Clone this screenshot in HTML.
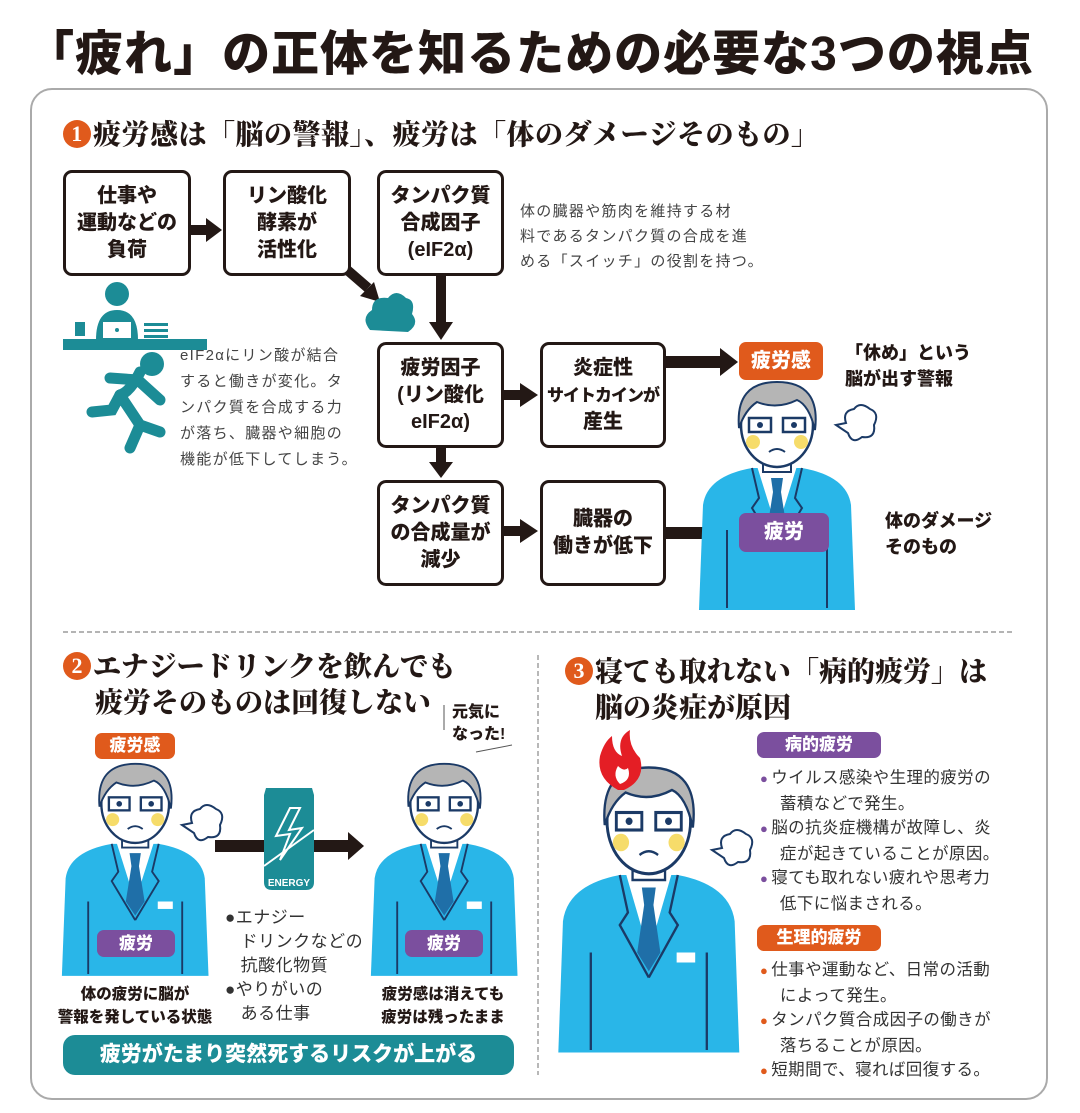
<!DOCTYPE html>
<html><head><meta charset="utf-8"><style>
*{margin:0;padding:0;box-sizing:border-box}
body{width:1080px;height:1113px;background:#fff;position:relative;overflow:hidden;font-family:"Liberation Sans","Noto Sans CJK JP",sans-serif;color:#231815}
.a{position:absolute}
.title{left:10px;top:14px;width:1040px;text-align:center;font-size:48px;font-weight:900;letter-spacing:1px;white-space:nowrap}
.panel{left:30px;top:88px;width:1018px;height:1012px;border:2px solid #aaa;border-radius:22px}
.h{font-family:"Liberation Serif","Noto Serif CJK JP",serif;font-weight:900;font-size:28px;white-space:nowrap;line-height:36px}
.num{display:inline-block;width:28px;height:28px;border-radius:50%;background:#e05a1c;color:#fff;font-size:22px;text-align:center;line-height:28px;vertical-align:3px;margin-right:2px;font-family:"Liberation Serif",serif}
.box{border:3px solid #231815;border-radius:9px;background:#fff;display:flex;align-items:center;justify-content:center;text-align:center;font-weight:900;font-size:20px;line-height:27px;white-space:nowrap}
.tag{color:#fff;font-weight:900;text-align:center;border-radius:7px}
.or{background:#e05a1c}.pu{background:#7b4f9e}
.sm{font-size:15px;color:#444;line-height:25px;white-space:nowrap;letter-spacing:1.3px}
.bl{font-size:16.5px;line-height:24.5px;white-space:nowrap;color:#333;letter-spacing:0.4px}
.bl span{font-size:13px;margin-right:3px}
</style></head><body>
<div class="a title">「疲れ」の正体を知るための必要な3つの視点</div>
<div class="a panel"></div>

<svg class="a" style="left:0;top:0" width="1080" height="1113">
<defs>
<g id="man">
 <path d="M6,125 Q10,96 55,88 L105,88 Q150,96 154,125 L158,230 L2,230 Z" fill="#29b6e8"/>
 <path d="M60,86 L80,150 L100,86 Z" fill="#fff"/>
 <path d="M74,98 L86,98 L84,112 L90,150 L80,165 L70,150 L76,112 Z" fill="#1f6fa8"/>
 <path d="M55,88 L62,118 L55,128 L80,170 M105,88 L98,118 L105,128 L80,170" fill="none" stroke="#1b3a66" stroke-width="2"/>
 <path d="M30,150 L30,228 M130,150 L130,228" stroke="#1b3a66" stroke-width="2"/>
 <rect x="104" y="150" width="16" height="8" fill="#fff"/>
 <rect x="66" y="70" width="28" height="22" fill="#fff" stroke="#1b3a66" stroke-width="2"/>
 <ellipse cx="80" cy="45" rx="36" ry="42" fill="#fff" stroke="#1b3a66" stroke-width="2.5"/>
 <path d="M42,48 Q38,2 80,2 Q124,2 118,50 Q112,25 100,20 Q80,30 60,22 Q48,30 42,48 Z" fill="#b5b5b5" stroke="#1b3a66" stroke-width="2"/>
 <rect x="52" y="38" width="22" height="14" fill="none" stroke="#1b3a66" stroke-width="2.5"/>
 <rect x="86" y="38" width="22" height="14" fill="none" stroke="#1b3a66" stroke-width="2.5"/>
 <circle cx="63" cy="45" r="3" fill="#1b3a66"/><circle cx="97" cy="45" r="3" fill="#1b3a66"/>
 <circle cx="56" cy="62" r="7" fill="#f6dc6a"/><circle cx="104" cy="62" r="7" fill="#f6dc6a"/>
 <path d="M72,72 Q80,66 88,72" fill="none" stroke="#1b3a66" stroke-width="2"/>
</g>
<g id="puff"><path d="M0,20 L10,18 Q6,6 18,4 Q24,-4 34,4 Q44,8 38,20 Q40,34 26,32 Q16,40 12,28 Z" fill="#fff" stroke="#1b3a66" stroke-width="2"/></g>
</defs>
<g fill="#231815">
 <rect x="190" y="225" width="18" height="10"/><polygon points="206,218 222,230 206,242"/>
 <rect x="436" y="275" width="10" height="50"/><polygon points="429,322 441,340 453,322"/>
 <line x1="338" y1="262" x2="368" y2="288" stroke="#231815" stroke-width="10"/><polygon points="360,296 380,302 374,282"/>
 <rect x="503" y="390" width="20" height="10"/><polygon points="520,383 538,395 520,407"/>
 <rect x="436" y="448" width="10" height="16"/><polygon points="429,462 441,478 453,462"/>
 <rect x="503" y="526" width="20" height="10"/><polygon points="520,519 538,531 520,543"/>
 <rect x="665" y="356" width="57" height="12"/><polygon points="720,348 738,362 720,376"/>
 <rect x="665" y="527" width="57" height="12"/><polygon points="720,519 738,533 720,547"/>
 <rect x="215" y="840" width="135" height="12"/><polygon points="348,832 364,846 348,860"/>
</g>
<path d="M370,330 Q360,318 372,310 Q372,296 388,298 Q396,288 406,298 Q416,300 412,314 Q420,324 408,332 Z" fill="#1c8c96"/>
<g fill="#1c8c96">
 <circle cx="117" cy="294" r="12"/>
 <path d="M96,340 Q96,310 117,310 Q138,310 138,340 Z"/>
 <rect x="63" y="339" width="144" height="11"/>
 <rect x="75" y="322" width="10" height="14"/>
 <rect x="144" y="323" width="24" height="3"/><rect x="144" y="329" width="24" height="3"/><rect x="144" y="335" width="24" height="3"/>
</g>
<rect x="103" y="322" width="28" height="16" fill="#fff"/><circle cx="117" cy="330" r="2" fill="#1c8c96"/>
<g stroke="#1c8c96" stroke-width="11" stroke-linecap="round" fill="none">
 <path d="M120,395 L140,425 L160,432"/><path d="M120,395 L112,410 L92,412"/>
 <path d="M140,425 L130,448"/><path d="M120,395 Q130,392 140,372"/><path d="M110,378 L138,380 L160,400"/>
</g>
<circle cx="152" cy="364" r="12" fill="#1c8c96"/>
<use href="#man" transform="translate(697,380)"/>
<use href="#puff" transform="translate(836,405)"/>
<use href="#man" transform="translate(60,762) scale(0.94,0.93)"/>
<use href="#puff" transform="translate(182,805)"/>
<use href="#man" transform="translate(369,762) scale(0.94,0.93)"/>
<use href="#man" transform="translate(556,765) scale(1.16,1.25)"/>
<use href="#puff" transform="translate(712,830)"/>
<path d="M618,790 Q596,778 600,756 Q604,742 612,736 Q612,752 622,756 Q616,738 630,730 Q628,746 640,758 Q646,780 624,790 Z" fill="#e41e25"/>
<path d="M620,784 Q612,776 618,766 Q624,772 628,768 Q632,780 620,784 Z" fill="#fff"/>
<path d="M264,795 L266,788 L312,788 L314,795 L314,882 Q314,890 306,890 L272,890 Q264,890 264,882 Z" fill="#1c8c96"/>
<path d="M290,808 L276,836 L290,834 L280,860 L302,828 L289,830 L300,808 Z" fill="none" stroke="#fff" stroke-width="2"/>
<line x1="264" y1="866" x2="314" y2="830" stroke="#fff" stroke-width="2"/>
<text x="289" y="886" font-size="10" font-weight="bold" fill="#fff" text-anchor="middle" font-family="Liberation Sans">ENERGY</text>
<line x1="444" y1="705" x2="444" y2="730" stroke="#555" stroke-width="1"/>
<line x1="476" y1="752" x2="512" y2="745" stroke="#555" stroke-width="1"/>
<line x1="63" y1="632" x2="1015" y2="632" stroke="#888" stroke-width="1.2" stroke-dasharray="5,3"/>
<line x1="538" y1="655" x2="538" y2="1075" stroke="#888" stroke-width="1.2" stroke-dasharray="5,3"/>
</svg>

<div class="a h" style="left:63px;top:118px;letter-spacing:0.5px"><span class="num">1</span>疲労感は「脳の警報」、疲労は「体のダメージそのもの」</div>

<div class="a box" style="left:63px;top:170px;width:128px;height:106px">仕事や<br>運動などの<br>負荷</div>
<div class="a box" style="left:223px;top:170px;width:128px;height:106px">リン酸化<br>酵素が<br>活性化</div>
<div class="a box" style="left:377px;top:170px;width:127px;height:106px">タンパク質<br>合成因子<br>(eIF2α)</div>
<div class="a box" style="left:377px;top:342px;width:127px;height:106px">疲労因子<br>(リン酸化<br>eIF2α)</div>
<div class="a box" style="left:540px;top:342px;width:126px;height:106px"><div>炎症性<br><span style="font-size:17px;letter-spacing:-1px">サイトカインが</span><br>産生</div></div>
<div class="a box" style="left:377px;top:480px;width:127px;height:106px">タンパク質<br>の合成量が<br>減少</div>
<div class="a box" style="left:540px;top:480px;width:126px;height:106px">臓器の<br>働きが低下</div>

<div class="a sm" style="left:520px;top:199px">体の臓器や筋肉を維持する材<br>料であるタンパク質の合成を進<br>める「スイッチ」の役割を持つ。</div>
<div class="a sm" style="left:180px;top:343px;line-height:26px">eIF2αにリン酸が結合<br>すると働きが変化。タ<br>ンパク質を合成する力<br>が落ち、臓器や細胞の<br>機能が低下してしまう。</div>

<div class="a tag or" style="left:739px;top:342px;width:84px;height:38px;font-size:20px;line-height:38px">疲労感</div>
<div class="a tag pu" style="left:739px;top:513px;width:90px;height:39px;font-size:20px;line-height:39px">疲労</div>
<div class="a" style="left:845px;top:340px;font-size:18px;font-weight:900;line-height:26px;white-space:nowrap">「休め」という<br>脳が出す警報</div>
<div class="a" style="left:885px;top:508px;font-size:18px;font-weight:900;line-height:26px;white-space:nowrap">体のダメージ<br>そのもの</div>

<div class="a h" style="left:63px;top:650px"><span class="num">2</span>エナジードリンクを飲んでも<br><span style="margin-left:32px">疲労そのものは回復しない</span></div>
<div class="a" style="left:452px;top:702px;font-size:16px;font-weight:900;line-height:22px;white-space:nowrap">元気に<br>なった!</div>
<div class="a tag or" style="left:95px;top:733px;width:80px;height:26px;font-size:17px;line-height:26px">疲労感</div>
<div class="a tag pu" style="left:97px;top:930px;width:78px;height:27px;font-size:17px;line-height:27px">疲労</div>
<div class="a tag pu" style="left:405px;top:930px;width:78px;height:27px;font-size:17px;line-height:27px">疲労</div>
<div class="a" style="left:225px;top:906px;font-size:17px;line-height:24px;white-space:nowrap;letter-spacing:0.5px;color:#333">●エナジー<br>&nbsp;&nbsp;&nbsp;ドリンクなどの<br>&nbsp;&nbsp;&nbsp;抗酸化物質<br>●やりがいの<br>&nbsp;&nbsp;&nbsp;ある仕事</div>
<div class="a" style="left:55px;top:983px;width:160px;text-align:center;font-size:15.5px;font-weight:900;line-height:23px;white-space:nowrap">体の疲労に脳が<br>警報を発している状態</div>
<div class="a" style="left:363px;top:983px;width:160px;text-align:center;font-size:15.5px;font-weight:900;line-height:23px;white-space:nowrap">疲労感は消えても<br>疲労は残ったまま</div>
<div class="a" style="left:63px;top:1035px;width:451px;height:40px;background:#1c8c96;border-radius:12px;color:#fff;font-size:21px;font-weight:900;text-align:center;line-height:40px">疲労がたまり突然死するリスクが上がる</div>

<div class="a h" style="left:565px;top:655px"><span class="num">3</span>寝ても取れない「病的疲労」は<br><span style="margin-left:30px">脳の炎症が原因</span></div>
<div class="a tag pu" style="left:757px;top:732px;width:124px;height:26px;font-size:17px;line-height:26px">病的疲労</div>
<div class="a bl" style="left:760px;top:766px"><span style="color:#7b4f9e">●</span>ウイルス感染や生理的疲労の<br>&nbsp;&nbsp;&nbsp;&nbsp;蓄積などで発生。<br><span style="color:#7b4f9e">●</span>脳の抗炎症機構が故障し、炎<br>&nbsp;&nbsp;&nbsp;&nbsp;症が起きていることが原因。<br><span style="color:#7b4f9e">●</span>寝ても取れない疲れや思考力<br>&nbsp;&nbsp;&nbsp;&nbsp;低下に悩まされる。</div>
<div class="a tag or" style="left:757px;top:925px;width:124px;height:26px;font-size:17px;line-height:26px">生理的疲労</div>
<div class="a bl" style="left:760px;top:958px"><span style="color:#e05a1c">●</span>仕事や運動など、日常の活動<br>&nbsp;&nbsp;&nbsp;&nbsp;によって発生。<br><span style="color:#e05a1c">●</span>タンパク質合成因子の働きが<br>&nbsp;&nbsp;&nbsp;&nbsp;落ちることが原因。<br><span style="color:#e05a1c">●</span>短期間で、寝れば回復する。</div>
</body></html>
